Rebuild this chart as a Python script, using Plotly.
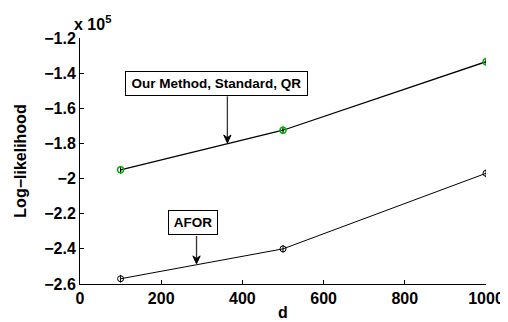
import plotly.graph_objects as go

d_values = [100, 500, 1000]
ours_ll = [-1.95, -1.725, -1.335]      # x 10^5
afor_ll = [-2.57, -2.40, -1.97]        # x 10^5
ours_err = [0.022, 0.022, 0.022]
afor_err = [0.022, 0.022, 0.022]
x_ticks = [0, 200, 400, 600, 800, 1000]
y_ticks = [-2.6, -2.4, -2.2, -2.0, -1.8, -1.6, -1.4, -1.2]
y_tick_labels = ["\u22122.6", "\u22122.4", "\u22122.2", "\u22122", "\u22121.8", "\u22121.6", "\u22121.4", "\u22121.2"]

FONT = "Liberation Sans, Arial, sans-serif"

fig = go.Figure()
fig.add_trace(go.Scatter(
    x=d_values, y=ours_ll, mode="lines+markers",
    line=dict(color="black", width=1.3),
    marker=dict(symbol="circle-open", size=6, color="#00b000", line=dict(width=1.4)),
    error_y=dict(type="data", array=ours_err, color="black", thickness=1.2, width=0),
    showlegend=False))
fig.add_trace(go.Scatter(
    x=d_values, y=afor_ll, mode="lines+markers",
    line=dict(color="black", width=1),
    marker=dict(symbol="circle-open", size=6, color="black", line=dict(width=1)),
    error_y=dict(type="data", array=afor_err, color="black", thickness=1, width=0),
    showlegend=False))

axis_common = dict(showline=True, linecolor="black", linewidth=1, ticks="inside",
                   ticklen=4, tickcolor="black", showgrid=False, zeroline=False,
                   mirror=False,
                   tickfont=dict(family=FONT, size=16, color="black", weight="bold"))

fig.update_xaxes(range=[0, 1000], tickvals=x_ticks, **axis_common,
                 title=dict(text="<b>d</b>", font=dict(family=FONT, size=16, color="black"), standoff=0))
fig.update_yaxes(range=[-2.6, -1.2], tickvals=y_ticks, ticktext=y_tick_labels, **axis_common,
                 title=dict(text="<b>Log\u2212likelihood</b>", font=dict(family=FONT, size=16, color="black"), standoff=13))

ann_font = dict(family=FONT, size=13.5, color="black")
fig.add_annotation(x=335, y=-1.458, xref="x", yref="y", text="<b>Our Method, Standard, QR</b>",
                   showarrow=False, bordercolor="black", borderwidth=1, borderpad=4, width=173,
                   bgcolor="white", font=ann_font)
fig.add_annotation(x=278, y=-2.251, xref="x", yref="y", text="<b>AFOR</b>",
                   showarrow=False, bordercolor="black", borderwidth=1, borderpad=4, width=40,
                   bgcolor="white", font=ann_font)
fig.add_annotation(x=0, y=1.0, xref="paper", yref="paper", text="<b>x 10<sup>5</sup></b>",
                   showarrow=False, xanchor="left", yanchor="bottom", yshift=3, xshift=-8,
                   font=dict(family=FONT, size=16, color="black"))

def arrow(x, y0, y1):
    fig.add_shape(type="line", xref="x", yref="y", x0=x, x1=x, y0=y0, y1=y1 + 0.02,
                  line=dict(color="#333333", width=1.3))
    fig.add_shape(type="path", xref="x", yref="y",
                  path=f"M {x} {y1} L {x-9} {y1+0.045} L {x} {y1+0.03} L {x+9} {y1+0.045} Z",
                  fillcolor="black", line=dict(color="black", width=1))

arrow(363, -1.532, -1.797)
arrow(287, -2.327, -2.485)

fig.update_layout(width=508, height=322, margin=dict(l=70, r=20, t=30, b=38),
                  plot_bgcolor="white", paper_bgcolor="white")
fig.write_html("out.html")
